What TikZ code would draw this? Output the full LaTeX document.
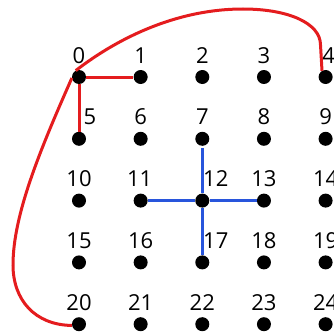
\documentclass[tikz,border=0pt]{standalone}
\usepackage{fontspec}
\setmainfont{Open Sans}
\definecolor{edgered}{RGB}{228,28,30}
\definecolor{edgeblue}{RGB}{40,85,220}
\begin{document}
\begin{tikzpicture}[x=1pt,y=1pt,
  dot/.style={circle,fill=black,inner sep=0pt,minimum size=14pt},
  lab/.style={anchor=base,inner sep=0pt,font=\fontsize{22}{26}\selectfont},
  redge/.style={draw=edgered,line width=3pt},
  bedge/.style={draw=edgeblue,line width=3.2pt}]
\useasboundingbox (0,0) rectangle (334,333);
\foreach \j in {0,...,4}{
  \foreach \i in {0,...,4}{
    \pgfmathtruncatemacro{\n}{5*\j+\i}
    \pgfmathsetmacro{\px}{79+61.65*\i}
    \pgfmathsetmacro{\py}{333-(77+61.8*\j)}
    \node[dot] (n\n) at (\px,\py) {};
  }
}
\foreach \n/\dx in {0/0,1/0,2/0,3/0,4/3,5/11,6/0,7/0,8/0,9/0,10/0,11/-1,12/13.5,13/0,14/0,15/0,16/0,17/13.5,18/0,19/0,20/0,21/0,22/0,23/0,24/0}{
  \node[lab] (l\n) at ([xshift=\dx pt,yshift=14pt]n\n.center) {\n};
}
% red edges
\draw[redge] (n0) -- (n1);
\draw[redge] (n0) -- (n5);
\draw[redge] (n0.117) .. controls ++(40,31) and (175,324) .. (243,324)
  .. controls (288,324) and (320.5,310) .. (320.5,288) -- (n4.120);
\draw[redge] (n0.188) .. controls (40,183) and (13,118) .. (13,68)
  .. controls (13,33) and (35,8) .. (n20.190);
% blue edges
\draw[bedge,shorten <=2pt] (n7) -- (n12);
\draw[bedge] (n11) -- (n12);
\draw[bedge] (n12) -- (n13);
\draw[bedge] (n12) -- (n17);
\end{tikzpicture}
\end{document}
